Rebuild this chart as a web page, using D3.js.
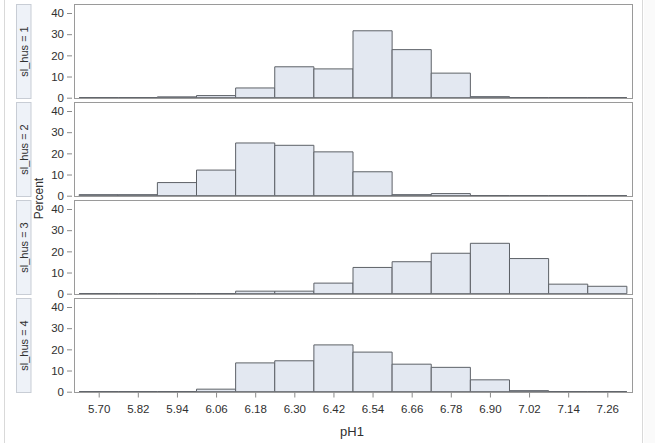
<!DOCTYPE html>
<html>
<head>
<meta charset="utf-8">
<script src="https://cdn.jsdelivr.net/npm/d3@7"></script>
<style>
  html, body { margin: 0; padding: 0; background: #ffffff; }
  svg { display: block; }
  text { font-family: "Liberation Sans", Arial, sans-serif; fill: #303030; }
</style>
</head>
<body>
<svg id="chart" width="655" height="443"></svg>
<script>
// ---- data ----
const binMids = [5.70, 5.82, 5.94, 6.06, 6.18, 6.30, 6.42, 6.54, 6.66, 6.78, 6.90, 7.02, 7.14, 7.26];
const tickLabels = ["5.70","5.82","5.94","6.06","6.18","6.30","6.42","6.54","6.66","6.78","6.90","7.02","7.14","7.26"];
const groups = ["sl_hus = 1", "sl_hus = 2", "sl_hus = 3", "sl_hus = 4"];
const hus1 = [0, 0, 0.4, 1.0, 4.6, 14.6, 13.6, 31.6, 22.7, 11.6, 0.5, 0, 0, 0];
const hus2 = [0.5, 0.5, 6.2, 12.1, 24.9, 23.8, 20.7, 11.3, 0.5, 1.0, 0, 0, 0, 0];
const hus3 = [0, 0, 0, 0, 1.2, 1.2, 5.0, 12.4, 15.1, 19.1, 23.8, 16.6, 4.5, 3.5];
const hus4 = [0, 0, 0, 1.2, 13.6, 14.6, 22.1, 18.7, 13.0, 11.5, 5.6, 0.5, 0, 0];
const series = [hus1, hus2, hus3, hus4];
const yTicks = [0, 10, 20, 30, 40];
const binWidth = 0.12;

// ---- layout ----
const svg = d3.select("#chart");
const panelLeft = 74.5, panelRight = 632.5;
const panelTops = [4.5, 102.5, 200.5, 298.5];
const panelH = 94;

const x = d3.scaleLinear().domain([5.70, 7.26]).range([98.7, 607.3]);

// outer faint frame lines
svg.append("line").attr("x1", 4.5).attr("x2", 4.5).attr("y1", 0).attr("y2", 443)
  .attr("stroke", "#d9d9d9").attr("stroke-width", 1);
svg.append("line").attr("x1", 642.5).attr("x2", 642.5).attr("y1", 0).attr("y2", 443)
  .attr("stroke", "#d9d9d9").attr("stroke-width", 1);
svg.append("rect").attr("x", 644).attr("y", 0).attr("width", 11).attr("height", 443)
  .attr("fill", "#fafafa");

groups.forEach((g, i) => {
  const top = panelTops[i];
  const bottom = top + panelH;
  const y = d3.scaleLinear().domain([0, 40]).range([bottom - 0.8, bottom - 0.8 - 84.7]);

  // strip label box
  svg.append("rect").attr("x", 16.5).attr("y", top).attr("width", 14.5).attr("height", panelH)
    .attr("fill", "#eef2f8").attr("stroke", "#c8cdd5").attr("stroke-width", 1);
  svg.append("text")
    .attr("transform", `translate(${27.5},${top + panelH / 2}) rotate(-90)`)
    .attr("text-anchor", "middle")
    .attr("font-size", "11px")
    .text(g);

  // panel frame background
  svg.append("rect").attr("x", panelLeft).attr("y", top).attr("width", panelRight - panelLeft).attr("height", panelH)
    .attr("fill", "#ffffff");

  // bars
  const gBars = svg.append("g");
  series[i].forEach((v, k) => {
    const x0 = x(binMids[k] - binWidth / 2), x1 = x(binMids[k] + binWidth / 2);
    const p = d3.path();
    p.moveTo(x0, y(0));
    p.lineTo(x0, y(v));
    p.lineTo(x1, y(v));
    p.lineTo(x1, y(0));
    p.closePath();
    gBars.append("path").attr("d", p.toString())
      .attr("fill", "#e3e8f1")
      .attr("stroke", "#5d6167")
      .attr("stroke-width", 1);
  });

  // frame
  svg.append("rect").attr("x", panelLeft).attr("y", top).attr("width", panelRight - panelLeft).attr("height", panelH)
    .attr("fill", "none").attr("stroke", "#9a9a9a").attr("stroke-width", 1);

  // y axis
  const yAxis = d3.axisLeft(y).tickValues(yTicks).tickSize(5).tickPadding(3);
  const ga = svg.append("g").attr("transform", `translate(${72},0)`).call(yAxis);
  ga.select(".domain").remove();
  ga.selectAll(".tick line").attr("stroke", "#8a8a8a");
  ga.selectAll(".tick text").attr("font-size", "11.5px").attr("fill", "#303030")
    .attr("font-family", "Liberation Sans, Arial, sans-serif");
});

// x axis
const lastBottom = panelTops[3] + panelH;
const xAxis = d3.axisBottom(x).tickValues(binMids).tickFormat((d, i) => tickLabels[i]).tickSize(5).tickPadding(7);
const gx = svg.append("g").attr("transform", `translate(0,${lastBottom})`).call(xAxis);
gx.select(".domain").remove();
gx.selectAll(".tick line").attr("stroke", "#8a8a8a");
gx.selectAll(".tick text").attr("font-size", "11.5px").attr("fill", "#303030")
  .attr("font-family", "Liberation Sans, Arial, sans-serif");

// axis titles
svg.append("text")
  .attr("transform", `translate(${43},${198.5}) rotate(-90)`)
  .attr("text-anchor", "middle")
  .attr("font-size", "12px")
  .text("Percent");
svg.append("text")
  .attr("x", 352).attr("y", 436)
  .attr("text-anchor", "middle")
  .attr("font-size", "13px")
  .text("pH1");
</script>
</body>
</html>
